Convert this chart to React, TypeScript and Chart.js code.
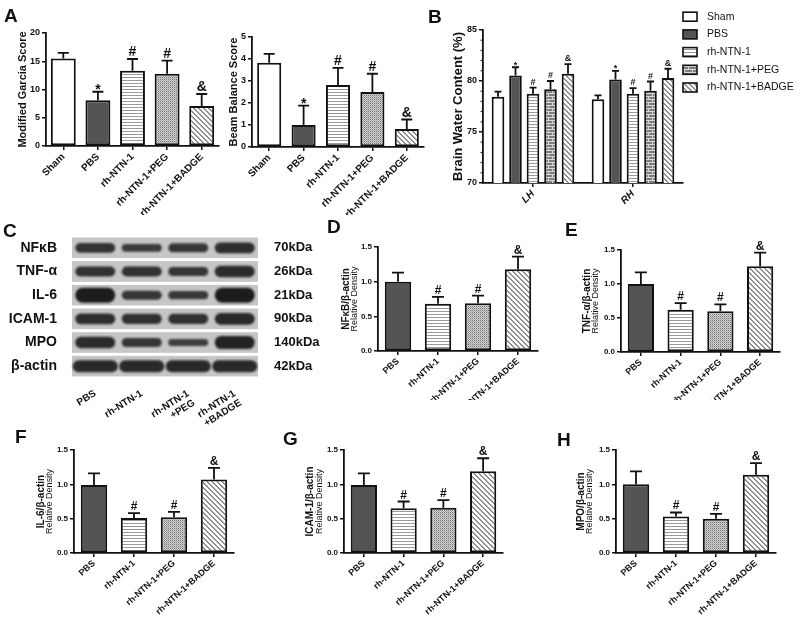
import React, { useEffect, useRef } from "react";
import { Chart, registerables } from "chart.js";
Chart.register(...registerables);

const FONT = "'Liberation Sans', Arial, Helvetica, sans-serif";
Chart.defaults.font.family = FONT;
Chart.defaults.color = "#111";

// ---------- data ----------
const groupsA = ["Sham", "PBS", "rh-NTN-1", "rh-NTN-1+PEG", "rh-NTN-1+BADGE"];
const garciaMean = [15.5, 8.1, 13.3, 12.8, 7.1];
const garciaErr = [16.5, 9.6, 15.4, 15.1, 9.2];
const beamMean = [3.83, 1.0, 2.82, 2.5, 0.82];
const beamErr = [4.23, 1.88, 3.6, 3.33, 1.25];
const marksA = ["", "*", "#", "#", "&"];

const sidesB = ["LH", "RH"];
const seriesB = ["Sham", "PBS", "rh-NTN-1", "rh-NTN-1+PEG", "rh-NTN-1+BADGE"];
const waterSham = [78.45, 78.22];
const waterShamErr = [78.95, 78.6];
const waterPBS = [80.55, 80.15];
const waterPBSErr = [81.35, 81.0];
const waterRh = [78.75, 78.75];
const waterRhErr = [79.35, 79.3];
const waterPEG = [79.2, 79.05];
const waterPEGErr = [80.0, 79.95];
const waterBADGE = [80.7, 80.3];
const waterBADGEErr = [81.65, 81.2];
const marksShamB = ["", ""];
const marksPBSB = ["*", "*"];
const marksRhB = ["#", "#"];
const marksPEGB = ["#", "#"];
const marksBADGEB = ["&", "&"];

const groupsWB = ["PBS", "rh-NTN-1", "rh-NTN-1+PEG", "rh-NTN-1+BADGE"];
const nfkbMean = [1.0, 0.68, 0.69, 1.18];
const nfkbErr = [1.13, 0.78, 0.8, 1.36];
const tnfMean = [1.0, 0.62, 0.6, 1.26];
const tnfErr = [1.17, 0.72, 0.7, 1.46];
const il6Mean = [0.99, 0.51, 0.52, 1.07];
const il6Err = [1.16, 0.58, 0.6, 1.24];
const icamMean = [0.99, 0.65, 0.66, 1.19];
const icamErr = [1.16, 0.75, 0.77, 1.38];
const mpoMean = [1.0, 0.53, 0.5, 1.14];
const mpoErr = [1.19, 0.59, 0.57, 1.31];
const marksWB = ["", "#", "#", "&"];

const blotRows = ["NFκB", "TNF-α", "IL-6", "ICAM-1", "MPO", "β-actin"];
const blotKDa = ["70kDa", "26kDa", "21kDa", "90kDa", "140kDa", "42kDa"];
const blotLanes = [["PBS"], ["rh-NTN-1"], ["rh-NTN-1", "+PEG"], ["rh-NTN-1", "+BADGE"]];
const bandNFkB = [0.55, 0.4, 0.5, 0.65];
const bandTNF = [0.6, 0.6, 0.5, 0.7];
const bandIL6 = [1.0, 0.5, 0.45, 1.0];
const bandICAM = [0.65, 0.6, 0.6, 0.72];
const bandMPO = [0.7, 0.5, 0.35, 0.85];
const bandActin = [0.75, 0.75, 0.75, 0.75];
const blotBands = [bandNFkB, bandTNF, bandIL6, bandICAM, bandMPO, bandActin];

// ---------- layout ----------
const L = {
  garcia: { box: [0, 25, 228, 190], area: [46, 33, 219, 146] },
  beam: { box: [226, 25, 200, 190], area: [252, 37, 424, 147] },
  water: { box: [400, 0, 400, 213], area: [483, 30, 683, 183] },
  blot: { box: [0, 214, 320, 212], area: [72, 236, 258, 378] },
  nfkb: { box: [320, 214, 240, 186], area: [378, 247, 538, 351] },
  tnf: { box: [560, 214, 240, 186], area: [621, 250, 780, 352] },
  il6: { box: [0, 420, 270, 199], area: [74, 450, 234, 553] },
  icam: { box: [270, 420, 270, 199], area: [344, 450, 503, 553] },
  mpo: { box: [540, 420, 260, 199], area: [616, 450, 776, 553] },
};

const letters = [
  ["A", 4, 6], ["B", 428, 7], ["C", 3, 221], ["D", 327, 217],
  ["E", 565, 220], ["F", 15, 427], ["G", 283, 429], ["H", 557, 430],
];

function makePatterns() {
  const mk = (w: number, h: number, draw: (g: CanvasRenderingContext2D) => void) => {
    const c = document.createElement("canvas");
    c.width = w;
    c.height = h;
    const g = c.getContext("2d")!;
    draw(g);
    return g.createPattern(c, "repeat")!;
  };
  return {
    white: "#ffffff" as any,
    dark: "#545454" as any,
    hlines: mk(4, 3, (g) => {
      g.fillStyle = "#fff"; g.fillRect(0, 0, 4, 3);
      g.fillStyle = "#9a9a9a"; g.fillRect(0, 1, 4, 1);
    }),
    dots: mk(2, 2, (g) => {
      g.fillStyle = "#d2d2d2"; g.fillRect(0, 0, 2, 2);
      g.fillStyle = "#747474"; g.fillRect(0, 0, 1, 1);
      g.fillStyle = "#a8a8a8"; g.fillRect(1, 1, 1, 1);
    }),
    brick: mk(8, 6, (g) => {
      g.fillStyle = "#7d7d7d"; g.fillRect(0, 0, 8, 6);
      g.fillStyle = "#d8d8d8";
      g.fillRect(0, 0, 8, 1); g.fillRect(0, 3, 8, 1);
      g.fillRect(0, 1, 1, 2); g.fillRect(4, 4, 1, 2);
    }),
    diag: mk(5, 5, (g) => {
      g.fillStyle = "#fff"; g.fillRect(0, 0, 5, 5);
      g.fillStyle = "#8e8e8e";
      for (let y = 0; y < 5; y++)
        for (let x = 0; x < 5; x++) {
          const d = (((x - y) % 5) + 5) % 5;
          if (d === 0 || d === 1) g.fillRect(x, y, 1, 1);
        }
    }),
  };
}

type Series = { label: string; values: number[]; errs: number[]; marks: string[]; fill: any };
type Spec = {
  box: number[]; area: number[]; labels: any[]; series: Series[];
  yMin: number; yMax: number; yStep: number; decimals: number;
  tickFont: number; xFont: number; xItalic?: boolean; rotation: number;
  titles: { text: string; size: number; weight: string; x: number }[];
  markFont: number; cap: number; barPct: number; catPct: number;
  minor?: number; legend?: { x: number; y: number; dy: number; size: number };
};

function buildBar(canvas: HTMLCanvasElement, s: Spec) {
  const [cx, cy, cw, ch] = s.box;
  const [AL, AT, AR, AB] = s.area;
  const deco = {
    id: "deco",
    afterDatasetsDraw(chart: any) {
      const ctx = chart.ctx;
      const ys = chart.scales.y;
      ctx.save();
      ctx.strokeStyle = "#111";
      ctx.fillStyle = "#111";
      ctx.lineWidth = 1.8;
      s.series.forEach((ser, i) => {
        const meta = chart.getDatasetMeta(i);
        meta.data.forEach((el: any, j: number) => {
          const x = el.x;
          const yTop = el.y;
          const yE = ys.getPixelForValue(ser.errs[j]);
          ctx.beginPath();
          ctx.moveTo(x, yTop);
          ctx.lineTo(x, yE);
          ctx.moveTo(x - s.cap / 2, yE);
          ctx.lineTo(x + s.cap / 2, yE);
          ctx.stroke();
          const m = ser.marks[j];
          if (m) {
            ctx.font = `bold ${s.markFont}px ${FONT}`;
            ctx.textAlign = "center";
            ctx.textBaseline = "alphabetic";
            const off = m === "*" ? s.markFont * 0.38 : 0;
            ctx.fillText(m, x, yE - 3 + off);
          }
        });
      });
      ctx.restore();
    },
    afterDraw(chart: any) {
      const ctx = chart.ctx;
      const ys = chart.scales.y;
      const ca = chart.chartArea;
      ctx.save();
      ctx.fillStyle = "#111";
      const mid = (ca.top + ca.bottom) / 2;
      s.titles.forEach((t) => {
        ctx.save();
        ctx.translate(t.x - cx, mid);
        ctx.rotate(-Math.PI / 2);
        ctx.font = `${t.weight} ${t.size}px ${FONT}`;
        ctx.textAlign = "center";
        ctx.textBaseline = "middle";
        ctx.fillText(t.text, 0, 0);
        ctx.restore();
      });
      if (s.minor) {
        ctx.strokeStyle = "#111";
        ctx.lineWidth = 1;
        for (let v = s.yMin; v <= s.yMax + 1e-9; v += s.minor) {
          if (Math.abs(v / s.yStep - Math.round(v / s.yStep)) < 1e-6) continue;
          const y = ys.getPixelForValue(v);
          ctx.beginPath();
          ctx.moveTo(ca.left - 2.5, y);
          ctx.lineTo(ca.left, y);
          ctx.stroke();
        }
      }
      if (s.legend) {
        const lg = s.legend;
        s.series.forEach((ser, i) => {
          const y = lg.y + i * lg.dy - cy;
          const x = lg.x - cx;
          ctx.fillStyle = ser.fill;
          ctx.fillRect(x, y - 4.5, 14, 9);
          ctx.strokeStyle = "#111";
          ctx.lineWidth = 1.6;
          ctx.strokeRect(x, y - 4.5, 14, 9);
          ctx.fillStyle = "#111";
          ctx.font = `${lg.size}px ${FONT}`;
          ctx.textAlign = "left";
          ctx.textBaseline = "middle";
          ctx.fillText(ser.label, x + 24, y);
        });
      }
      ctx.restore();
    },
  };
  return new Chart(canvas, {
    type: "bar",
    data: {
      labels: s.labels,
      datasets: s.series.map((ser) => ({
        label: ser.label,
        data: ser.values,
        backgroundColor: ser.fill,
        borderColor: "#111",
        borderWidth: 2,
        borderSkipped: false,
        barPercentage: s.barPct,
        categoryPercentage: s.catPct,
      })),
    },
    options: {
      animation: false,
      responsive: false,
      events: [],
      layout: { padding: { left: 0, top: AT - cy, right: cx + cw - AR, bottom: 0 } },
      plugins: { legend: { display: false }, tooltip: { enabled: false } },
      scales: {
        x: {
          type: "category",
          offset: true,
          grid: { display: true, drawOnChartArea: false, drawTicks: true, tickLength: 4, offset: false, color: "#111", lineWidth: 1.5 },
          border: { display: true, color: "#111", width: 1.8 },
          ticks: {
            color: "#111",
            autoSkip: false,
            minRotation: s.rotation,
            maxRotation: s.rotation,
            padding: 1,
            font: { family: FONT, size: s.xFont, weight: "bold", style: s.xItalic ? "italic" : "normal" },
          },
          afterFit: (sc: any) => { sc.height = cy + ch - AB; sc.paddingLeft = 0; sc.paddingRight = 0; },
        },
        y: {
          min: s.yMin,
          max: s.yMax,
          grid: { display: true, drawOnChartArea: false, drawTicks: true, tickLength: 4, color: "#111", lineWidth: 1.5 },
          border: { display: true, color: "#111", width: 1.8 },
          ticks: {
            stepSize: s.yStep,
            color: "#111",
            padding: 2,
            font: { family: FONT, size: s.tickFont, weight: "bold" },
            callback: (v: any) => Number(v).toFixed(s.decimals),
          },
          afterFit: (sc: any) => { sc.width = AL - cx; sc.paddingTop = 0; sc.paddingBottom = 0; },
        },
      },
    } as any,
    plugins: [deco],
  });
}

function buildBlot(canvas: HTMLCanvasElement) {
  const [cx, cy, cw, ch] = L.blot.box;
  const [AL, AT, AR, AB] = L.blot.area;
  const blot = {
    id: "blot",
    afterDraw(chart: any) {
      const ctx = chart.ctx;
      const xs = chart.scales.x;
      const ys = chart.scales.y;
      const ca = chart.chartArea;
      const sp = ys.getPixelForValue(1) - ys.getPixelForValue(0);
      const lane = xs.getPixelForValue(1) - xs.getPixelForValue(0);
      ctx.save();
      blotRows.forEach((_, r) => {
        const yc = ys.getPixelForValue(r);
        const h = sp - 3;
        ctx.fillStyle = "#c6c6c6";
        ctx.fillRect(ca.left, yc - h / 2, ca.right - ca.left, h);
        blotBands[r].forEach((lv, j) => {
          const xc = xs.getPixelForValue(j);
          const bw = lane * (r === 5 ? 0.97 : 0.86);
          const bh = 3 + 12 * lv;
          ctx.save();
          ctx.filter = "blur(1.1px)";
          ctx.fillStyle = `rgba(24,24,24,${0.68 + 0.3 * lv})`;
          ctx.beginPath();
          if ((ctx as any).roundRect) (ctx as any).roundRect(xc - bw / 2, yc - bh / 2, bw, bh, bh / 2);
          else ctx.rect(xc - bw / 2, yc - bh / 2, bw, bh);
          ctx.fill();
          ctx.restore();
        });
      });
      ctx.restore();
    },
  };
  return new Chart(canvas, {
    type: "bar",
    data: { labels: blotLanes as any, datasets: [] },
    options: {
      animation: false,
      responsive: false,
      events: [],
      layout: { padding: { left: 0, top: AT - cy, right: 0, bottom: 0 } },
      plugins: { legend: { display: false }, tooltip: { enabled: false } },
      scales: {
        x: {
          type: "category",
          labels: blotLanes as any,
          offset: true,
          display: true,
          grid: { display: false },
          border: { display: false },
          ticks: { color: "#111", autoSkip: false, minRotation: 32, maxRotation: 32, padding: 2, font: { family: FONT, size: 10, weight: "bold", lineHeight: 1.1 } },
          afterFit: (sc: any) => { sc.height = cy + ch - AB; sc.paddingLeft = 0; sc.paddingRight = 0; },
        },
        y: {
          type: "category",
          labels: blotRows,
          position: "left",
          offset: true,
          display: true,
          grid: { display: false },
          border: { display: false },
          ticks: { color: "#111", padding: 7, font: { family: FONT, size: 14, weight: "bold" } },
          afterFit: (sc: any) => { sc.width = AL - cx; sc.paddingTop = 0; sc.paddingBottom = 0; },
        },
        y2: {
          type: "category",
          labels: blotKDa,
          position: "right",
          offset: true,
          display: true,
          grid: { display: false },
          border: { display: false },
          ticks: { color: "#111", padding: 8, font: { family: FONT, size: 13, weight: "bold" } },
          afterFit: (sc: any) => { sc.width = cx + cw - AR; sc.paddingTop = 0; sc.paddingBottom = 0; },
        },
      },
    } as any,
    plugins: [blot],
  });
}

const ORDER = ["garcia", "beam", "water", "nfkb", "tnf", "il6", "icam", "mpo", "blot"] as const;

function makeSpecs(p: any): Record<string, Spec> {
  const fillsA = [p.white, p.dark, p.hlines, p.dots, p.diag];
  const fillsWB = [p.dark, p.hlines, p.dots, p.diag];
  const wb = (key: "nfkb" | "tnf" | "il6" | "icam" | "mpo", mean: number[], err: number[], title: string, tx1: number, tx2: number): Spec => ({
    box: L[key].box, area: L[key].area, labels: groupsWB,
    series: [{ label: title, values: mean, errs: err, marks: marksWB, fill: fillsWB }],
    yMin: 0, yMax: 1.5, yStep: 0.5, decimals: 1, tickFont: 8, xFont: 9, rotation: 42,
    titles: [
      { text: title, size: 10, weight: "bold", x: tx1 },
      { text: "Relative Density", size: 9, weight: "normal", x: tx2 },
    ],
    markFont: 12, cap: 12, barPct: 0.66, catPct: 1,
  });
  return {
    garcia: {
      box: L.garcia.box, area: L.garcia.area, labels: groupsA,
      series: [{ label: "Modified Garcia Score", values: garciaMean, errs: garciaErr, marks: marksA, fill: fillsA }],
      yMin: 0, yMax: 20, yStep: 5, decimals: 0, tickFont: 9, xFont: 10, rotation: 45,
      titles: [{ text: "Modified Garcia Score", size: 11, weight: "bold", x: 23 }],
      markFont: 14, cap: 11, barPct: 0.72, catPct: 1,
    },
    beam: {
      box: L.beam.box, area: L.beam.area, labels: groupsA,
      series: [{ label: "Beam Balance Score", values: beamMean, errs: beamErr, marks: marksA, fill: fillsA }],
      yMin: 0, yMax: 5, yStep: 1, decimals: 0, tickFont: 9, xFont: 10, rotation: 45,
      titles: [{ text: "Beam Balance Score", size: 11, weight: "bold", x: 233.5 }],
      markFont: 14, cap: 11, barPct: 0.7, catPct: 1,
    },
    water: {
      box: L.water.box, area: L.water.area, labels: sidesB,
      series: [
        { label: seriesB[0], values: waterSham, errs: waterShamErr, marks: marksShamB, fill: p.white },
        { label: seriesB[1], values: waterPBS, errs: waterPBSErr, marks: marksPBSB, fill: p.dark },
        { label: seriesB[2], values: waterRh, errs: waterRhErr, marks: marksRhB, fill: p.hlines },
        { label: seriesB[3], values: waterPEG, errs: waterPEGErr, marks: marksPEGB, fill: p.brick },
        { label: seriesB[4], values: waterBADGE, errs: waterBADGEErr, marks: marksBADGEB, fill: p.diag },
      ],
      yMin: 70, yMax: 85, yStep: 5, decimals: 0, tickFont: 9, xFont: 10, xItalic: true, rotation: 45,
      titles: [{ text: "Brain Water Content (%)", size: 13, weight: "bold", x: 458 }],
      markFont: 9, cap: 7, barPct: 0.72, catPct: 0.875, minor: 1,
      legend: { x: 683, y: 16.7, dy: 17.7, size: 10.5 },
    },
    nfkb: wb("nfkb", nfkbMean, nfkbErr, "NFκB/β-actin", 346, 355),
    tnf: wb("tnf", tnfMean, tnfErr, "TNF-α/β-actin", 587, 596),
    il6: wb("il6", il6Mean, il6Err, "IL-6/β-actin", 41, 50),
    icam: wb("icam", icamMean, icamErr, "ICAM-1/β-actin", 310, 320),
    mpo: wb("mpo", mpoMean, mpoErr, "MPO/β-actin", 581, 590),
  };
}

export default function App() {
  const refs = useRef<Record<string, HTMLCanvasElement | null>>({});
  useEffect(() => {
    const p = makePatterns();
    const specs = makeSpecs(p);
    const charts: Chart[] = [];
    ORDER.forEach((k) => {
      const c = refs.current[k];
      if (!c) return;
      if (k === "blot") charts.push(buildBlot(c));
      else charts.push(buildBar(c, specs[k]));
    });
    return () => charts.forEach((c) => c.destroy());
  }, []);
  return (
    <div style={{ position: "absolute", left: 0, top: 0, width: 800, height: 619, background: "#fff", overflow: "hidden" }}>
      {ORDER.map((k) => {
        const [x, y, w, h] = (L as any)[k].box;
        return (
          <canvas
            key={k}
            ref={(el) => { refs.current[k] = el; }}
            width={w}
            height={h}
            style={{ position: "absolute", left: x, top: y, width: w, height: h }}
          />
        );
      })}
      {letters.map(([t, x, y]) => (
        <div
          key={t as string}
          style={{ position: "absolute", left: x as number, top: y as number, font: `bold 19px ${FONT}`, lineHeight: "19px", color: "#111" }}
        >
          {t}
        </div>
      ))}
    </div>
  );
}
